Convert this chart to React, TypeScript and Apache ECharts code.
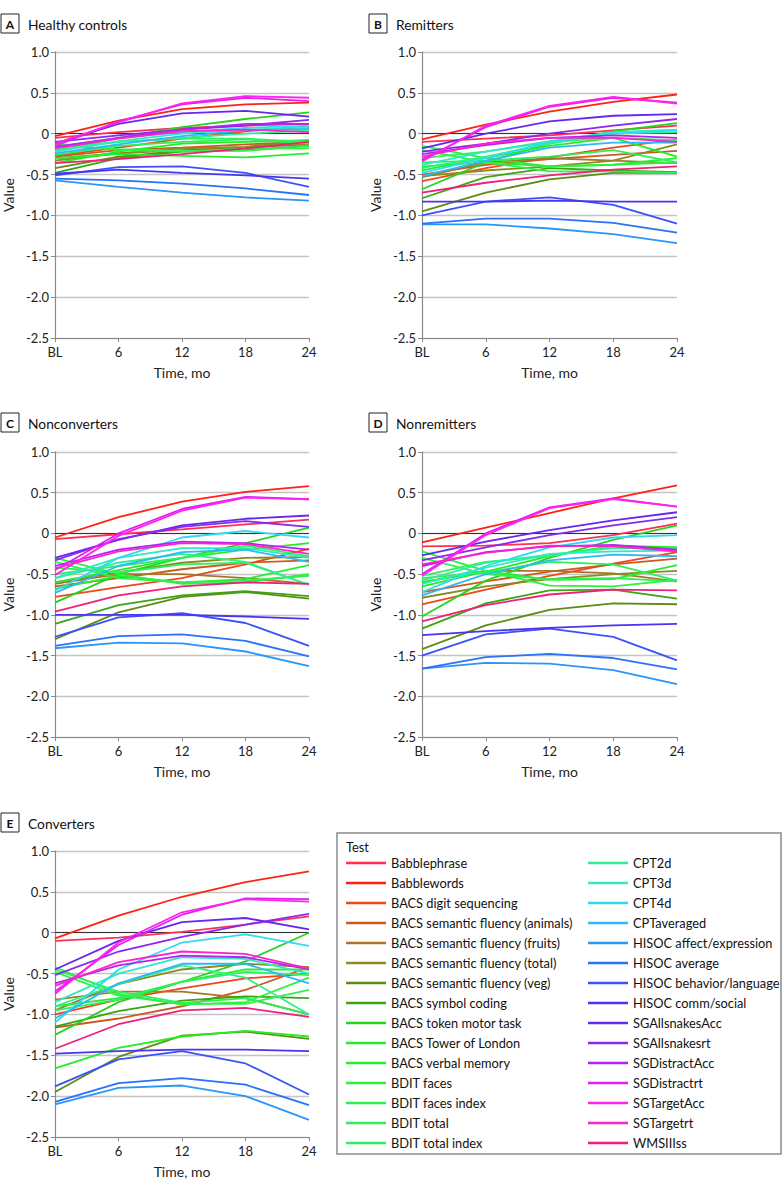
import React, { useEffect, useRef } from "react";
import * as echarts from "echarts";

const timepoints = ["BL", "6", "12", "18", "24"];

const testNames = [
  "Babblephrase", "Babblewords", "BACS digit sequencing", "BACS semantic fluency (animals)",
  "BACS semantic fluency (fruits)", "BACS semantic fluency (total)", "BACS semantic fluency (veg)",
  "BACS symbol coding", "BACS token motor task", "BACS Tower of London", "BACS verbal memory",
  "BDIT faces", "BDIT faces index", "BDIT total", "BDIT total index",
  "CPT2d", "CPT3d", "CPT4d", "CPTaveraged", "HISOC affect/expression", "HISOC average",
  "HISOC behavior/language", "HISOC comm/social", "SGAllsnakesAcc", "SGAllsnakesrt",
  "SGDistractAcc", "SGDistractrt", "SGTargetAcc", "SGTargetrt", "WMSIIIss",
];

const lineColors = [
  "#ff2e55", "#ff2214", "#f0461a", "#cc5a1e", "#a8762a", "#888a22", "#5e8c12",
  "#3aa412", "#26d41e", "#22ee22", "#22f02e", "#2ef03e", "#2ef04c", "#2ef058", "#2ef066",
  "#2ef08c", "#2eeac0", "#2edcf2", "#2eb8f8", "#2a96f8", "#2a72f8", "#3a52f8", "#4a34f2",
  "#6428f0", "#8a28f0", "#b422f0", "#e020f0", "#ff22f0", "#ff22c8", "#f0207a",
];

const healthyControls = [
  [-0.05, 0.02, 0.07, 0.10, 0.12],
  [-0.03, 0.16, 0.30, 0.36, 0.38],
  [-0.27, -0.17, -0.06, 0.03, 0.09],
  [-0.28, -0.20, -0.17, -0.13, -0.10],
  [-0.30, -0.24, -0.20, -0.17, -0.13],
  [-0.33, -0.24, -0.18, -0.16, -0.08],
  [-0.42, -0.28, -0.21, -0.18, -0.10],
  [-0.48, -0.30, -0.22, -0.20, -0.15],
  [-0.22, -0.05, 0.08, 0.18, 0.26],
  [-0.36, -0.22, -0.12, -0.10, -0.08],
  [-0.30, -0.25, -0.27, -0.29, -0.24],
  [-0.12, -0.20, -0.22, -0.18, -0.18],
  [-0.15, -0.19, -0.21, -0.21, -0.15],
  [-0.26, -0.15, -0.10, -0.07, -0.12],
  [-0.20, -0.10, -0.06, -0.06, -0.10],
  [-0.18, -0.10, -0.05, 0.00, 0.04],
  [-0.22, -0.09, 0.00, 0.05, 0.08],
  [-0.16, -0.05, 0.02, 0.07, 0.10],
  [-0.24, -0.13, -0.03, 0.04, 0.06],
  [-0.57, -0.65, -0.72, -0.78, -0.82],
  [-0.55, -0.57, -0.61, -0.67, -0.75],
  [-0.51, -0.41, -0.40, -0.48, -0.65],
  [-0.49, -0.44, -0.48, -0.51, -0.55],
  [-0.12, 0.12, 0.25, 0.28, 0.21],
  [-0.10, -0.02, 0.05, 0.10, 0.17],
  [-0.16, -0.05, 0.05, 0.12, 0.12],
  [-0.15, 0.15, 0.36, 0.44, 0.40],
  [-0.12, 0.14, 0.37, 0.46, 0.44],
  [-0.18, -0.06, 0.03, 0.05, 0.02],
  [-0.36, -0.31, -0.25, -0.18, -0.10],
];

const remitters = [
  [-0.10, -0.06, -0.02, 0.04, 0.10],
  [-0.07, 0.11, 0.27, 0.39, 0.48],
  [-0.58, -0.42, -0.29, -0.17, -0.07],
  [-0.50, -0.38, -0.31, -0.26, -0.21],
  [-0.53, -0.35, -0.30, -0.33, -0.36],
  [-0.52, -0.45, -0.40, -0.33, -0.13],
  [-0.95, -0.72, -0.56, -0.48, -0.48],
  [-0.79, -0.53, -0.42, -0.45, -0.47],
  [-0.68, -0.35, -0.12, 0.03, 0.13],
  [-0.45, -0.30, -0.15, -0.05, -0.28],
  [-0.40, -0.35, -0.40, -0.38, -0.30],
  [-0.15, -0.30, -0.40, -0.38, -0.35],
  [-0.20, -0.35, -0.46, -0.46, -0.48],
  [-0.35, -0.33, -0.28, -0.20, -0.35],
  [-0.30, -0.22, -0.10, -0.05, -0.08],
  [-0.42, -0.28, -0.12, 0.00, 0.02],
  [-0.38, -0.22, -0.09, 0.02, 0.05],
  [-0.48, -0.30, -0.10, 0.00, 0.04],
  [-0.52, -0.33, -0.17, -0.11, -0.11],
  [-1.11, -1.11, -1.16, -1.23, -1.34],
  [-1.10, -1.04, -1.04, -1.09, -1.21],
  [-1.00, -0.83, -0.78, -0.87, -1.10],
  [-0.83, -0.83, -0.82, -0.83, -0.83],
  [-0.18, 0.00, 0.15, 0.22, 0.24],
  [-0.22, -0.12, 0.00, 0.10, 0.18],
  [-0.25, -0.14, -0.05, -0.02, -0.05],
  [-0.32, 0.08, 0.33, 0.44, 0.38],
  [-0.34, 0.10, 0.34, 0.45, 0.37],
  [-0.28, -0.12, -0.05, -0.05, -0.10],
  [-0.72, -0.60, -0.51, -0.44, -0.40],
];

const nonconverters = [
  [-0.07, -0.01, 0.05, 0.11, 0.17],
  [-0.05, 0.20, 0.39, 0.51, 0.58],
  [-0.78, -0.66, -0.55, -0.38, -0.19],
  [-0.65, -0.55, -0.44, -0.36, -0.33],
  [-0.62, -0.50, -0.50, -0.55, -0.62],
  [-0.60, -0.48, -0.36, -0.30, -0.29],
  [-1.30, -0.97, -0.78, -0.72, -0.80],
  [-1.11, -0.88, -0.76, -0.71, -0.77],
  [-0.85, -0.50, -0.30, -0.12, 0.07],
  [-0.60, -0.45, -0.30, -0.20, -0.12],
  [-0.68, -0.52, -0.60, -0.56, -0.39],
  [-0.30, -0.50, -0.62, -0.60, -0.50],
  [-0.35, -0.55, -0.60, -0.58, -0.52],
  [-0.42, -0.48, -0.38, -0.36, -0.63],
  [-0.50, -0.40, -0.30, -0.15, -0.28],
  [-0.55, -0.36, -0.25, -0.35, -0.63],
  [-0.55, -0.30, -0.18, -0.18, -0.30],
  [-0.70, -0.30, -0.05, 0.03, -0.05],
  [-0.73, -0.40, -0.23, -0.20, -0.35],
  [-1.41, -1.34, -1.35, -1.45, -1.63],
  [-1.38, -1.26, -1.24, -1.32, -1.51],
  [-1.27, -1.03, -0.98, -1.10, -1.38],
  [-1.00, -1.00, -1.00, -1.02, -1.05],
  [-0.30, -0.08, 0.10, 0.18, 0.22],
  [-0.33, -0.07, 0.08, 0.15, 0.08],
  [-0.40, -0.20, -0.10, -0.12, -0.20],
  [-0.45, 0.00, 0.30, 0.45, 0.42],
  [-0.51, -0.03, 0.28, 0.44, 0.42],
  [-0.43, -0.22, -0.12, -0.13, -0.25],
  [-0.96, -0.76, -0.65, -0.60, -0.62],
];

const nonremitters = [
  [-0.16, -0.15, -0.12, -0.02, 0.12],
  [-0.11, 0.07, 0.25, 0.43, 0.59],
  [-0.87, -0.69, -0.52, -0.37, -0.23],
  [-0.72, -0.59, -0.47, -0.38, -0.31],
  [-0.60, -0.46, -0.46, -0.49, -0.59],
  [-0.79, -0.65, -0.56, -0.50, -0.46],
  [-1.42, -1.13, -0.94, -0.86, -0.87],
  [-1.17, -0.86, -0.70, -0.69, -0.80],
  [-1.02, -0.58, -0.30, -0.08, 0.10],
  [-0.65, -0.47, -0.28, -0.15, -0.17],
  [-0.60, -0.46, -0.57, -0.56, -0.39],
  [-0.22, -0.46, -0.64, -0.65, -0.57],
  [-0.30, -0.50, -0.56, -0.55, -0.59],
  [-0.55, -0.48, -0.35, -0.38, -0.58],
  [-0.52, -0.35, -0.28, -0.16, -0.21],
  [-0.58, -0.36, -0.26, -0.18, -0.18],
  [-0.62, -0.42, -0.25, -0.22, -0.21],
  [-0.72, -0.40, -0.17, -0.05, -0.02],
  [-0.76, -0.50, -0.33, -0.26, -0.28],
  [-1.66, -1.59, -1.60, -1.68, -1.85],
  [-1.66, -1.52, -1.48, -1.53, -1.67],
  [-1.50, -1.24, -1.17, -1.27, -1.56],
  [-1.25, -1.20, -1.16, -1.13, -1.11],
  [-0.27, -0.10, 0.04, 0.16, 0.26],
  [-0.33, -0.17, -0.02, 0.10, 0.20],
  [-0.40, -0.23, -0.16, -0.14, -0.20],
  [-0.50, 0.00, 0.32, 0.43, 0.33],
  [-0.52, -0.02, 0.31, 0.42, 0.33],
  [-0.38, -0.24, -0.15, -0.16, -0.22],
  [-1.08, -0.88, -0.75, -0.69, -0.70],
];

const converters = [
  [-0.10, -0.06, 0.01, 0.10, 0.20],
  [-0.07, 0.21, 0.44, 0.62, 0.75],
  [-1.00, -0.82, -0.68, -0.56, -0.50],
  [-1.16, -1.05, -0.90, -0.70, -0.42],
  [-0.82, -0.72, -0.72, -0.80, -1.00],
  [-0.95, -0.63, -0.45, -0.38, -0.42],
  [-1.95, -1.52, -1.26, -1.21, -1.30],
  [-1.15, -0.96, -0.83, -0.78, -0.80],
  [-1.25, -0.85, -0.60, -0.35, 0.00],
  [-1.66, -1.41, -1.27, -1.20, -1.27],
  [-0.90, -0.80, -0.60, -0.45, -0.45],
  [-0.42, -0.75, -0.88, -0.85, -0.55],
  [-0.48, -0.77, -0.87, -0.87, -0.70],
  [-0.45, -0.72, -0.86, -0.80, -1.00],
  [-0.95, -0.82, -0.60, -0.48, -0.52],
  [-0.90, -0.63, -0.40, -0.55, -1.00],
  [-0.85, -0.50, -0.30, -0.32, -0.50],
  [-1.10, -0.45, -0.12, -0.02, -0.16],
  [-1.05, -0.62, -0.38, -0.38, -0.62],
  [-2.10, -1.90, -1.87, -2.00, -2.29],
  [-2.07, -1.84, -1.78, -1.86, -2.11],
  [-1.88, -1.55, -1.45, -1.60, -1.98],
  [-1.48, -1.45, -1.43, -1.43, -1.45],
  [-0.45, -0.10, 0.13, 0.18, 0.04],
  [-0.52, -0.23, -0.05, 0.10, 0.23],
  [-0.62, -0.40, -0.28, -0.30, -0.45],
  [-0.72, -0.15, 0.22, 0.42, 0.41],
  [-0.75, -0.12, 0.25, 0.41, 0.38],
  [-0.65, -0.36, -0.23, -0.26, -0.44],
  [-1.42, -1.12, -0.95, -0.92, -1.03],
];

const panelLetters = ["A", "B", "C", "D", "E"];
const panelTitles = ["Healthy controls", "Remitters", "Nonconverters", "Nonremitters", "Converters"];
const panelData = [healthyControls, remitters, nonconverters, nonremitters, converters];

const FONT = "Lato, 'Noto Sans', sans-serif";

// layout (pixels)
const grids = [
  { left: 54, top: 52, width: 255, height: 286 },
  { left: 422, top: 52, width: 255, height: 286 },
  { left: 54, top: 452, width: 255, height: 285 },
  { left: 422, top: 452, width: 255, height: 285 },
  { left: 54, top: 851, width: 255, height: 286 },
];
const titlePos = [
  { bx: 1, by: 14 },
  { bx: 369, by: 14 },
  { bx: 1, by: 413 },
  { bx: 369, by: 413 },
  { bx: 1, by: 813 },
];

export default function App() {
  const ref = useRef<HTMLDivElement>(null);
  useEffect(() => {
    if (!ref.current) return;
    const chart = echarts.init(ref.current, undefined, { renderer: "svg" });

    const xAxis = grids.map((_, i) => ({
      type: "category",
      gridIndex: i,
      data: timepoints,
      boundaryGap: false,
      name: "Time, mo",
      nameLocation: "middle",
      nameGap: 27,
      nameTextStyle: { fontFamily: FONT, fontSize: 14, color: "#222" },
      axisLine: { onZero: false, lineStyle: { color: "#8a8a8a", width: 1.2 } },
      axisTick: { show: true, length: 4, lineStyle: { color: "#8a8a8a" } },
      axisLabel: { fontFamily: FONT, fontSize: 13, color: "#222", margin: 7 },
      splitLine: { show: false },
    }));
    const yAxis = grids.map((_, i) => ({
      type: "value",
      gridIndex: i,
      min: -2.5,
      max: 1,
      interval: 0.5,
      name: "Value",
      nameLocation: "middle",
      nameGap: 40,
      nameTextStyle: { fontFamily: FONT, fontSize: 14, color: "#222" },
      axisLine: { show: true, lineStyle: { color: "#8a8a8a", width: 1.2 } },
      axisTick: { show: true, length: 4, lineStyle: { color: "#8a8a8a" } },
      axisLabel: {
        fontFamily: FONT,
        fontSize: 13,
        color: "#222",
        margin: 6,
        formatter: (v: number) => (v === 0 ? "0" : v.toFixed(1)),
      },
      splitLine: { show: true, lineStyle: { color: "#c4c4c4", width: 1.3 } },
    }));

    const series: any[] = [];
    panelData.forEach((rows, gi) => {
      rows.forEach((vals, si) => {
        const s: any = {
          type: "line",
          name: testNames[si],
          xAxisIndex: gi,
          yAxisIndex: gi,
          data: vals,
          symbol: "none",
          showSymbol: false,
          lineStyle: { color: lineColors[si], width: 1.8 },
          itemStyle: { color: lineColors[si] },
          emphasis: { disabled: true },
          silent: true,
          z: 3,
        };
        if (si === 0) {
          s.markLine = {
            silent: true,
            symbol: ["none", "none"],
            label: { show: false },
            lineStyle: { color: "#333", width: 1, type: "solid" },
            data: [{ yAxis: 0 }],
            z: 2,
          };
        }
        series.push(s);
      });
    });

    const graphics: any[] = [];
    titlePos.forEach((p, i) => {
      graphics.push({
        type: "rect",
        shape: { x: p.bx, y: p.by, width: 18, height: 19 },
        style: { fill: "#fff", stroke: "#222", lineWidth: 1 },
      });
      graphics.push({
        type: "text",
        x: p.bx + 9,
        y: p.by + 10,
        style: {
          text: panelLetters[i],
          fontFamily: FONT,
          fontSize: 12,
          fontWeight: "bold",
          fill: "#111",
          align: "center",
          verticalAlign: "middle",
        },
      });
      graphics.push({
        type: "text",
        x: p.bx + 27,
        y: p.by + 10,
        style: {
          text: panelTitles[i],
          fontFamily: FONT,
          fontSize: 13.8,
          fill: "#111",
          align: "left",
          verticalAlign: "middle",
        },
      });
    });
    graphics.push({
      type: "rect",
      shape: { x: 337, y: 833, width: 444, height: 321 },
      style: { fill: "none", stroke: "#8a8a8a", lineWidth: 1.5 },
      z: 0,
    });
    graphics.push({
      type: "text",
      x: 346,
      y: 847,
      style: {
        text: "Test",
        fontFamily: FONT,
        fontSize: 12.8,
        fill: "#111",
        align: "left",
        verticalAlign: "middle",
      },
    });

    const legendCommon = {
      orient: "vertical",
      top: 854,
      padding: 0,
      itemWidth: 40,
      itemHeight: 2.5,
      itemGap: 2,
      icon: "rect",
      selectedMode: false,
      textStyle: { fontFamily: FONT, fontSize: 12.8, color: "#111", lineHeight: 18 },
    };

    chart.setOption({
      animation: false,
      backgroundColor: "#fff",
      grid: grids.map((g) => ({ ...g, containLabel: false })),
      xAxis,
      yAxis,
      legend: [
        { ...legendCommon, left: 346, data: testNames.slice(0, 15) },
        { ...legendCommon, left: 588, data: testNames.slice(15) },
      ],
      graphic: graphics,
      series,
    });

    return () => chart.dispose();
  }, []);

  return (
    <div
      ref={ref}
      style={{ position: "absolute", left: 0, top: 0, width: 783, height: 1191 }}
    />
  );
}
